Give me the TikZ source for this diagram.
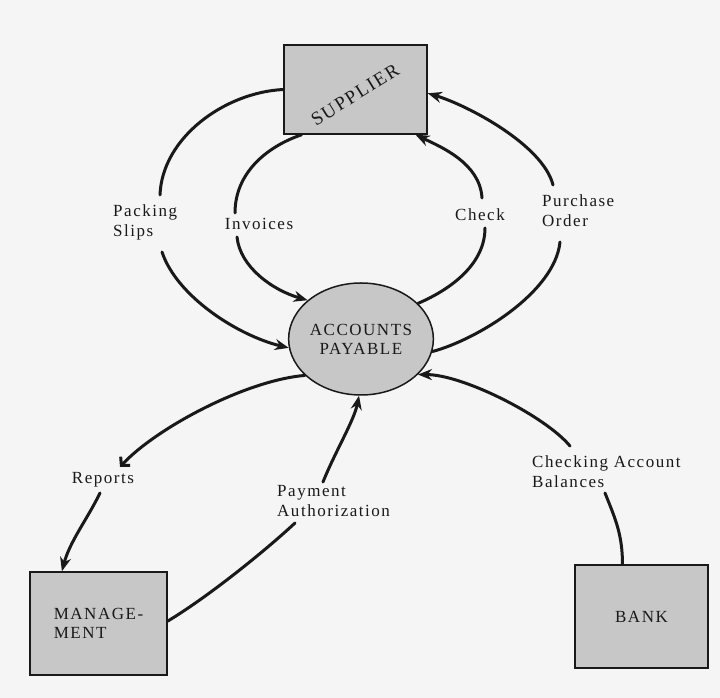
\documentclass[tikz,border=0pt]{standalone}
\usepackage{fontspec}
\setmainfont{Liberation Serif}[LetterSpace=9]
\usetikzlibrary{arrows.meta,shapes.geometric}

\begin{document}
\begin{tikzpicture}[x=1pt,y=1pt,
  flow/.style={line width=3pt, line cap=round, draw=black!90},
  tip/.style={-{Stealth[length=14pt,width=11pt]}},
  entity/.style={draw=black!90, line width=1.5pt, fill=black!22, inner sep=0pt,
                 font=\fontsize{17}{19}\selectfont, text=black!90},
  lbl/.style={font=\fontsize{17}{20}\selectfont, text=black!90, inner sep=0pt, align=left}]

% page
\useasboundingbox (0,0) rectangle (720,698);
\fill[black!4] (0,0) rectangle (720,698);

% entities and the central process
\node[entity, minimum width=143pt, minimum height=89pt] (sup) at (355.5,608.5) {};
\node[font=\fontsize{19}{20}\selectfont, text=black!90, rotate=32, inner sep=0pt] (suptext) at (355,603) {SUPPLIER};
\node[entity, ellipse, minimum width=142pt, minimum height=112pt, align=center] (ap) at (361,359) {ACCOUNTS\\PAYABLE};
\node[entity, minimum width=137pt, minimum height=103pt, align=left] (mgmt) at (98.5,74.5) {MANAGE-\\MENT};
\node[entity, minimum width=133pt, minimum height=103pt] (bank) at (641.5,81.5) {BANK};

% flow labels
\node[lbl, anchor=west] (packing) at (113,476) {Packing\\Slips};
\node[lbl] (invoices) at (259,474) {Invoices};
\node[lbl] (check) at (480,483) {Check};
\node[lbl, anchor=west] (purchase) at (542,487) {Purchase\\Order};
\node[lbl] (reports) at (103,218) {Reports};
\node[lbl, anchor=west] (payment) at (277,197) {Payment\\Authorization};
\node[lbl, anchor=west] (checking) at (532,226) {Checking Account\\Balances};

% free ends of the flow lines beside the labels
\coordinate (ps1) at (160,503);
\coordinate (ps2) at (162,446);
\coordinate (inv1) at (235,485);
\coordinate (inv2) at (237,461);
\coordinate (ck1) at (482,500);
\coordinate (ck2) at (485,470);
\coordinate (po1) at (553,513);
\coordinate (po2) at (560,456);
\coordinate (rp1) at (120,231);
\coordinate (rp2) at (100,205);
\coordinate (pa1) at (295,175);
\coordinate (pa2) at (323,216);
\coordinate (cb1) at (570,252);
\coordinate (cb2) at (605,205);

% supplier -> accounts payable
\draw[flow] (sup.west) .. controls +(-59,-3) and +(2,57) .. (ps1);
\draw[flow,tip] (ps2) .. controls +(15,-45) and +(-50,12) .. (ap.187);
\draw[flow] (sup.220) .. controls +(-35,-12) and +(0,40) .. (inv1);
\draw[flow,tip] (inv2) .. controls +(3,-30) and +(-35,10) .. (ap.144);

% accounts payable -> supplier
\draw[flow] (ap.32) .. controls +(35,15) and +(0,-35) .. (ck2);
\draw[flow,tip] (ck1) .. controls +(-2,35) and +(25,-12) .. (sup.-37);
\draw[flow] (ap.-10) .. controls +(45,12) and +(-5,-50) .. (po2);
\draw[flow,tip] (po1) .. controls +(-10,40) and +(40,-12) .. (sup.-3);

% accounts payable -> management
\draw[flow,-{Straight Barb[length=6pt,width=13pt]}] (ap.213) .. controls +(-60,-5) and +(35,38) .. (rp1);
\draw[flow,tip] (rp2) .. controls +(-12,-25) and +(8,30) .. (mgmt.125);

% management -> accounts payable
\draw[flow] (mgmt.2) .. controls +(40,24) and +(-30,-28) .. (pa1);
\draw[flow,tip] (pa2) .. controls +(12,30) and +(-5,-25) .. (ap.268);

% bank -> accounts payable
\draw[flow] (bank.110) .. controls +(0,30) and +(10,-25) .. (cb2);
\draw[flow,tip] (cb1) .. controls +(-25,30) and +(45,0) .. (ap.-32);

\end{tikzpicture}
\end{document}
